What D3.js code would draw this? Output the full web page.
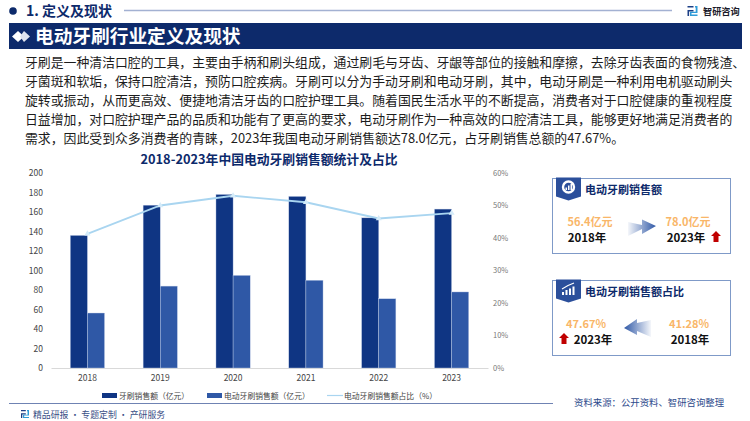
<!DOCTYPE html>
<html>
<head>
<meta charset="utf-8">
<script src="https://cdnjs.cloudflare.com/ajax/libs/d3/7.8.5/d3.min.js"></script>
<style>
    html, body { margin: 0; padding: 0; background: #fff; }
    svg { display: block; }
    text { font-family: "Noto Sans CJK SC", "Noto Sans", sans-serif; }
</style>
</head>
<body>
<script>
    var years = ['2018', '2019', '2020', '2021', '2022', '2023']
    var brushSales = [136, 167, 178, 176, 154, 163]
    var electricSales = [56.4, 84, 95, 90, 71, 78]
    var electricShare = [41.28, 50, 53, 51, 46, 47.67]
    var leftTicks = [0, 20, 40, 60, 80, 100, 120, 140, 160, 180, 200]
    var rightTicks = [0, 10, 20, 30, 40, 50, 60]
    var legendNames = ['牙刷销售额（亿元）', '电动牙刷销售额（亿元）', '电动牙刷销售额占比（%）']
    var bodyLines = [
        '牙刷是一种清洁口腔的工具，主要由手柄和刷头组成，通过刷毛与牙齿、牙龈等部位的接触和摩擦，去除牙齿表面的食物残渣、',
        '牙菌斑和软垢，保持口腔清洁，预防口腔疾病。牙刷可以分为手动牙刷和电动牙刷，其中，电动牙刷是一种利用电机驱动刷头',
        '旋转或振动，从而更高效、便捷地清洁牙齿的口腔护理工具。随着国民生活水平的不断提高，消费者对于口腔健康的重视程度',
        '日益增加，对口腔护理产品的品质和功能有了更高的要求，电动牙刷作为一种高效的口腔清洁工具，能够更好地满足消费者的',
        '需求，因此受到众多消费者的青睐，2023年我国电动牙刷销售额达78.0亿元，占牙刷销售总额的47.67%。'
    ]

    var navy = '#0d2a6b', barDark = '#0f3583', barMid = '#2f58a6', lineBlue = '#a9d5f0', orange = '#f9b668'

    var svg = d3.select('body').append('svg').attr('width', 750).attr('height', 421)

    var defs = svg.append('defs')
    var gradRight = defs.append('linearGradient').attr('id', 'fadeRight')
    gradRight.append('stop').attr('offset', '0%').attr('stop-color', '#2f58a6').attr('stop-opacity', 0.05)
    gradRight.append('stop').attr('offset', '100%').attr('stop-color', '#2f58a6')
    var gradLeft = defs.append('linearGradient').attr('id', 'fadeLeft')
    gradLeft.append('stop').attr('offset', '0%').attr('stop-color', '#2f58a6')
    gradLeft.append('stop').attr('offset', '100%').attr('stop-color', '#2f58a6').attr('stop-opacity', 0.05)

    function label(x, y, str, size, color, weight, anchor) {
        return svg.append('text').attr('x', x).attr('y', y).text(str)
            .attr('font-size', size).attr('fill', color)
            .attr('font-weight', weight || 400)
            .attr('text-anchor', anchor || 'start')
    }

    // header
    svg.append('circle').attr('cx', 13).attr('cy', 11).attr('r', 3.8).attr('fill', navy)
    label(26, 16, '1. 定义及现状', 14, navy, 700)
    svg.append('line').attr('x1', 124).attr('x2', 672).attr('y1', 10.5).attr('y2', 10.5)
        .attr('stroke', '#a3b1d2').attr('stroke-width', 1.4)
    svg.append('rect').attr('x', 9).attr('y', 23).attr('width', 733).attr('height', 26).attr('fill', navy)
    svg.append('path').attr('d', 'M12 36.5 L18 31 L24 36.5 L18 42 Z').attr('fill', '#fff')
    svg.append('path').attr('d', 'M20 36.5 L24 31 L30 36.5 L24 42 Z').attr('fill', '#dfe4ef')
    label(35, 43, '电动牙刷行业定义及现状', 18.7, '#fff', 700)

    // logo, top right and footer
    function logo(lx, ly, s) {
        var g = svg.append('g').attr('transform', 'translate(' + lx + ',' + ly + ') scale(' + s + ')')
        g.append('path').attr('d', 'M0 0 H6 V1.6 H0 Z M0 4 H6 V5.5 H1.6 V10 H0 Z').attr('fill', '#1c3f86')
        g.append('path').attr('d', 'M7.5 0 H10 V7 H4 V8.6 H10 V10 H2.5 V5.8 H8.2 V1.6 H7.5 Z').attr('fill', '#2f9bd8')
    }
    logo(687.5, 6, 1)
    label(703, 14.5, '智研咨询', 9.2, '#1a1a2a', 700)

    // body text
    var lineY = d3.scaleLinear().domain([0, 4]).range([67, 143])
    bodyLines.forEach(function(d, i) {
        label(25, lineY(i), d, 12.87, '#1c1c1c')
    })

    label(269, 164, '2018-2023年中国电动牙刷销售额统计及占比', 12.8, navy, 700, 'middle')

    // chart
    var x = d3.scaleBand().domain(years).range([51, 488]).paddingInner(0.53).paddingOuter(0.265)
    var y = d3.scaleLinear().domain([0, 200]).range([368, 173])
    var yShare = d3.scaleLinear().domain([0, 60]).range([368, 173])

    var axisLeft = d3.axisLeft(y).tickValues(leftTicks).tickSize(0).tickPadding(8)
    var gLeft = svg.append('g').attr('transform', 'translate(51,0)').call(axisLeft)
    gLeft.select('.domain').remove()
    gLeft.selectAll('text').attr('font-size', 8.5).attr('fill', '#444')

    var axisRight = d3.axisRight(yShare).tickValues(rightTicks).tickSize(0)
        .tickPadding(6).tickFormat(function(d) { return d + '%' })
    var gRight = svg.append('g').attr('transform', 'translate(487,0)').call(axisRight)
    gRight.select('.domain').remove()
    gRight.selectAll('text').attr('font-size', 7.5).attr('fill', '#777')

    var axisBottom = d3.axisBottom(x).tickSize(0).tickPadding(7)
    var gBottom = svg.append('g').attr('transform', 'translate(0,368)').call(axisBottom)
    gBottom.select('.domain').attr('stroke', '#d9d9d9')
    gBottom.selectAll('text').attr('font-size', 8.5).attr('fill', '#444')

    var half = x.bandwidth() / 2
    svg.append('g').selectAll('rect').data(years).enter().append('rect')
        .attr('x', function(d) { return x(d) })
        .attr('y', function(d, i) { return y(brushSales[i]) })
        .attr('width', half)
        .attr('height', function(d, i) { return 368 - y(brushSales[i]) })
        .attr('fill', barDark).attr('stroke', '#c3d0e8').attr('stroke-width', 0.4)
    svg.append('g').selectAll('rect').data(years).enter().append('rect')
        .attr('x', function(d) { return x(d) + half })
        .attr('y', function(d, i) { return y(electricSales[i]) })
        .attr('width', half)
        .attr('height', function(d, i) { return 368 - y(electricSales[i]) })
        .attr('fill', barMid).attr('stroke', '#c3d0e8').attr('stroke-width', 0.4)

    var shareLine = d3.line()
        .x(function(d, i) { return x(years[i]) + half })
        .y(function(d) { return yShare(d) })
    svg.append('path').datum(electricShare).attr('d', shareLine)
        .attr('fill', 'none').attr('stroke', lineBlue).attr('stroke-width', 1.8)
    svg.append('g').selectAll('path').data(electricShare).enter().append('path')
        .attr('d', d3.symbol().type(d3.symbolTriangle).size(16))
        .attr('transform', function(d, i) {
            return 'translate(' + (x(years[i]) + half) + ',' + yShare(d) + ')'
        })
        .attr('fill', '#d4ebf9')

    // legend
    svg.append('rect').attr('x', 102).attr('y', 393).attr('width', 15).attr('height', 5).attr('fill', barDark)
    label(119, 399, legendNames[0], 7.8, '#444')
    svg.append('rect').attr('x', 207).attr('y', 393).attr('width', 15).attr('height', 5).attr('fill', barMid)
    label(224, 399, legendNames[1], 7.8, '#444')
    svg.append('line').attr('x1', 327).attr('x2', 343).attr('y1', 395.5).attr('y2', 395.5)
        .attr('stroke', lineBlue).attr('stroke-width', 1.2)
    label(344, 399, legendNames[2], 7.8, '#444')

    // footer
    svg.append('line').attr('x1', 9).attr('x2', 553).attr('y1', 403.5).attr('y2', 403.5)
        .attr('stroke', '#6f83b3').attr('stroke-width', 1)
    logo(21, 410, 0.8)
    label(33, 418, '精品研报 · 专题定制 · 产研服务', 8.9, '#3a4f86')
    label(574, 406, '资料来源：公开资料、智研咨询整理', 9.4, '#2d4a8c')

    // side cards
    function card(top, h, title) {
        svg.append('rect').attr('x', 552.5).attr('y', top).attr('width', 178).attr('height', h)
            .attr('fill', '#fff').attr('stroke', '#7f9ac8').attr('stroke-width', 1)
        svg.append('path')
            .attr('d', 'M556 ' + (top - 1) + ' H581 V' + (top + 18) + ' L568.5 ' + (top + 22) + ' L556 ' + (top + 18) + ' Z')
            .attr('fill', '#2b4f9b')
        label(585, top + 15, title, 11, navy, 700)
    }
    function upArrow(cx, cy) {
        svg.append('path')
            .attr('d', 'M' + cx + ' ' + (cy - 6) + ' l5 5 h-2.5 v6 h-5 v-6 h-2.5 Z')
            .attr('fill', '#c00000')
    }

    card(178.5, 75, '电动牙刷销售额')
    svg.append('circle').attr('cx', 568.5).attr('cy', 187).attr('r', 5.5)
        .attr('fill', 'none').attr('stroke', '#fff').attr('stroke-width', 2.4)
    svg.append('path').attr('d', 'M565.5 190 V187.5 H567 V190 Z M568 190 V185.5 H569.5 V190 Z M570.5 190 V184 H572 V190 Z').attr('fill', '#fff')
    label(590, 226, '56.4亿元', 11, orange, 700, 'middle')
    label(587, 242, '2018年', 11.5, '#111', 700, 'middle')
    svg.append('path').attr('d', 'M628 222 L642 225 V219.5 L656 226 L642 234 V229 L628 236 Z').attr('fill', 'url(#fadeRight)')
    label(688, 226, '78.0亿元', 11, orange, 700, 'middle')
    label(686, 242, '2023年', 11.5, '#111', 700, 'middle')
    upArrow(716, 237)

    card(280.5, 75, '电动牙刷销售额占比')
    svg.append('path').attr('d', 'M562 295 V292 H564 V295 Z M565.5 295 V290 H567.5 V295 Z M569 295 V288.5 H571 V295 Z M572.5 295 V286.5 H574.5 V295 Z').attr('fill', '#fff')
    svg.append('path').attr('d', 'M562 289 L568 285.5 L574 283').attr('fill', 'none').attr('stroke', '#fff').attr('stroke-width', 1.1)
    label(586, 328, '47.67%', 11, orange, 700, 'middle')
    label(593, 344, '2023年', 11.5, '#111', 700, 'middle')
    upArrow(564, 339)
    svg.append('path').attr('d', 'M651 320 L637 323 V319 L624 328 L637 335 V331 L651 337 Z').attr('fill', 'url(#fadeLeft)')
    label(689, 328, '41.28%', 11, orange, 700, 'middle')
    label(690, 344, '2018年', 11.5, '#111', 700, 'middle')
</script>
</body>
</html>
